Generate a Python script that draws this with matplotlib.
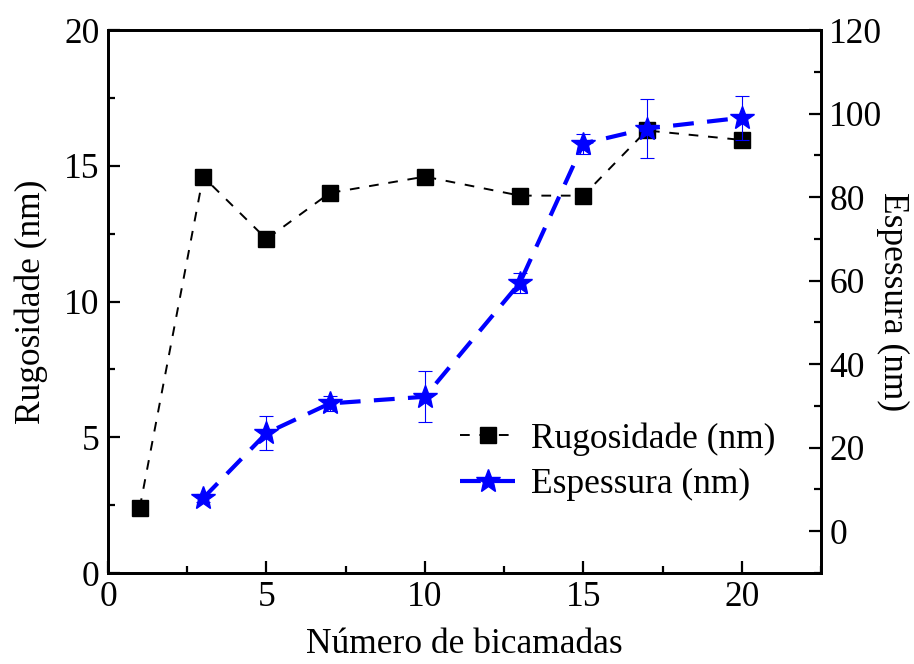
import matplotlib
matplotlib.use("Agg")
import matplotlib.pyplot as plt
from matplotlib.ticker import MultipleLocator

plt.rcParams['font.family'] = ['Liberation Serif', 'DejaVu Serif']
plt.rcParams['mathtext.fontset'] = 'stix'

# numero de bicamadas
bicamadas_rug = [1, 3, 5, 7, 10, 13, 15, 17, 20]
rugosidade = [2.4, 14.6, 12.3, 14.0, 14.6, 13.9, 13.9, 16.3, 15.95]

bicamadas_esp = [3, 5, 7, 10, 13, 15, 17, 20]
espessura = [7.9, 23.5, 30.6, 32.2, 59.5, 92.8, 96.4, 99.0]
espessura_err = [1.0, 4.0, 1.8, 6.1, 2.4, 2.4, 7.0, 5.3]

fs = 25.5

fig = plt.figure(figsize=(9.14, 6.64), dpi=100)
ax = fig.add_axes([0.1182, 0.137, 0.78, 0.8178])
ax2 = ax.twinx()

l1, = ax.plot(bicamadas_rug, rugosidade, color='black', lw=1.4,
              dashes=(5, 5), marker='s', ms=11, label='Rugosidade (nm)')

ax2.errorbar(bicamadas_esp, espessura, yerr=espessura_err, fmt='none',
             ecolor='blue', elinewidth=0.8, capsize=5, capthick=0.8)
l2, = ax2.plot(bicamadas_esp, espessura, color='blue', lw=3,
               dashes=(5, 3.2), marker='*', ms=18, label='Espessura (nm)')

ax.set_xlim(0, 22.5)
ax.set_ylim(0, 20)
ax2.set_ylim(-10, 120)

ax.xaxis.set_major_locator(MultipleLocator(5))
ax.xaxis.set_minor_locator(MultipleLocator(2.5))
ax.yaxis.set_major_locator(MultipleLocator(5))
ax.yaxis.set_minor_locator(MultipleLocator(2.5))
ax2.yaxis.set_major_locator(MultipleLocator(20))
ax2.yaxis.set_minor_locator(MultipleLocator(10))

for a in (ax, ax2):
    for s in a.spines.values():
        s.set_linewidth(2)
    a.tick_params(which='major', direction='in', length=8.5, width=1.6,
                  labelsize=fs, pad=6)
    a.tick_params(which='minor', direction='in', length=5, width=1.6)
ax.tick_params(axis='y', which='both', right=False)
ax.tick_params(axis='x', which='both', top=False)

ax.set_xlabel('Número de bicamadas', fontsize=fs, labelpad=10)
ax.set_ylabel('Rugosidade (nm)', fontsize=fs, labelpad=12)
ax2.set_ylabel('Espessura (nm)', fontsize=fs, rotation=270, labelpad=19)

ax.legend(handles=[l1, l2], loc='upper left', bbox_to_anchor=(0.494, 0.278),
          frameon=False, fontsize=fs, handlelength=1.55, handletextpad=0.45,
          labelspacing=0.36, borderaxespad=0, borderpad=0)

fig.savefig('out.png', dpi=100)
